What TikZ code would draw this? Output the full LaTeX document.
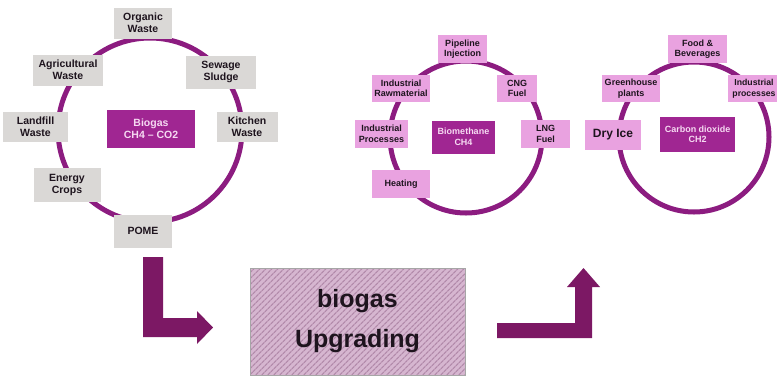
\documentclass[tikz,border=0pt]{standalone}
\usepackage{fontspec}
\setmainfont{Liberation Sans}
\usetikzlibrary{patterns.meta}
\definecolor{ringc}{RGB}{140,28,128}
\definecolor{magc}{RGB}{160,38,146}
\definecolor{pinkc}{RGB}{233,162,224}
\definecolor{grayc}{RGB}{218,216,214}
\definecolor{arrowc}{RGB}{124,24,100}
\definecolor{hatchbase}{RGB}{214,182,208}
\definecolor{hatchline}{RGB}{178,138,170}
\definecolor{magtext}{RGB}{246,218,242}
\definecolor{darktext}{RGB}{30,20,30}
\begin{document}
\begin{tikzpicture}[x=1pt,y=-1pt,
  ring/.style={draw=ringc, line width=5pt},
  gbox/.style={fill=grayc, draw=none, inner sep=0pt, align=center, text=darktext,
    font=\bfseries\fontsize{10.5}{12}\selectfont},
  pbox/.style={fill=pinkc, draw=none, inner sep=0pt, align=center, text=darktext,
    font=\bfseries\fontsize{9}{10.5}\selectfont},
  mbox/.style={fill=magc, draw=none, inner sep=0pt, align=center, text=magtext,
    font=\bfseries\fontsize{9}{10.5}\selectfont},
  blockarrow/.style={fill=arrowc, draw=none},
  upbox/.style={draw=black!35, line width=0.6pt, inner sep=0pt, align=center,
    preaction={fill=hatchbase},
    pattern={Lines[angle=45,distance=4pt,line width=1.3pt]}, pattern color=hatchline,
    text=darktext, font=\bfseries\fontsize{25}{40}\selectfont}
]
\useasboundingbox (0,0) rectangle (777,376);
\begin{scope}
\clip (0,0) rectangle (777,376);

% ---------- circle 1 : biogas sources ----------
\coordinate (c1) at (150,130);
\draw[ring] (c1) circle[radius=92pt];
\node[gbox, minimum width=58pt, minimum height=31pt] (organic) at (143,23) {Organic\\Waste};
\node[gbox, minimum width=70pt, minimum height=31pt] (agri) at (68,70) {Agricultural\\Waste};
\node[gbox, minimum width=70pt, minimum height=33pt] (sewage) at (221,72) {Sewage\\Sludge};
\node[gbox, minimum width=65pt, minimum height=30pt] (landfill) at (35.5,127) {Landfill\\Waste};
\node[gbox, minimum width=61pt, minimum height=30pt] (kitchen) at (247,127) {Kitchen\\Waste};
\node[gbox, minimum width=67pt, minimum height=34pt] (energy) at (67,185) {Energy\\Crops};
\node[gbox, minimum width=58pt, minimum height=33pt] (pome) at (143,231) {POME};
\node[mbox, minimum width=88pt, minimum height=38pt, font=\bfseries\fontsize{10.5}{12}\selectfont] (biogas) at (151,129) {Biogas\\CH4 -- CO2};

% ---------- circle 2 : biomethane uses ----------
\coordinate (c2) at (466,137);
\draw[ring] (c2) circle[radius=76pt];
\node[pbox, minimum width=49pt, minimum height=28pt] (pipeline) at (462.5,49) {Pipeline\\Injection};
\node[pbox, minimum width=58pt, minimum height=27pt] (rawmat) at (401,88.5) {Industrial\\Rawmaterial};
\node[pbox, minimum width=40pt, minimum height=27pt] (cng) at (517,88.5) {CNG\\Fuel};
\node[pbox, minimum width=53pt, minimum height=28pt] (indproc) at (381.5,134) {Industrial\\Processes};
\node[pbox, minimum width=49pt, minimum height=28pt] (lng) at (545.5,134) {LNG\\Fuel};
\node[pbox, minimum width=58pt, minimum height=28pt] (heating) at (401,184) {Heating};
\node[mbox, minimum width=63pt, minimum height=33pt] (biomethane) at (463.5,137) {Biomethane\\CH4};

% ---------- circle 3 : carbon dioxide uses ----------
\coordinate (c3) at (694,137);
\draw[ring] (c3) circle[radius=75pt];
\node[pbox, minimum width=59pt, minimum height=28pt] (food) at (697.5,49) {Food \&\\Beverages};
\node[pbox, minimum width=58pt, minimum height=27pt] (greenhouse) at (631,88.5) {Greenhouse\\plants};
\node[pbox, minimum width=52pt, minimum height=27pt, font=\bfseries\fontsize{8.7}{10.5}\selectfont] (indproc2) at (754,88.5) {Industrial\\processes};
\node[pbox, minimum width=56pt, minimum height=30pt, font=\bfseries\fontsize{12}{14}\selectfont] (dryice) at (613,135) {Dry Ice};
\node[mbox, minimum width=75pt, minimum height=35pt] (co2) at (697.5,134.5) {Carbon dioxide\\CH2};

% ---------- upgrading ----------
\node[upbox, minimum width=215pt, minimum height=107pt] (upgrading) at (357.5,321.5) {biogas\\Upgrading};

% ---------- block arrows ----------
\fill[blockarrow] (143,257) -- (163,257) -- (163,318) -- (197,318) -- (197,311)
  -- (213,327.5) -- (197,344) -- (197,337) -- (143,337) -- cycle;
\fill[blockarrow] (497,323) -- (575,323) -- (575,287) -- (567,287) -- (583.5,268)
  -- (600,287) -- (592,287) -- (592,338) -- (497,338) -- cycle;
\end{scope}
\end{tikzpicture}
\end{document}
